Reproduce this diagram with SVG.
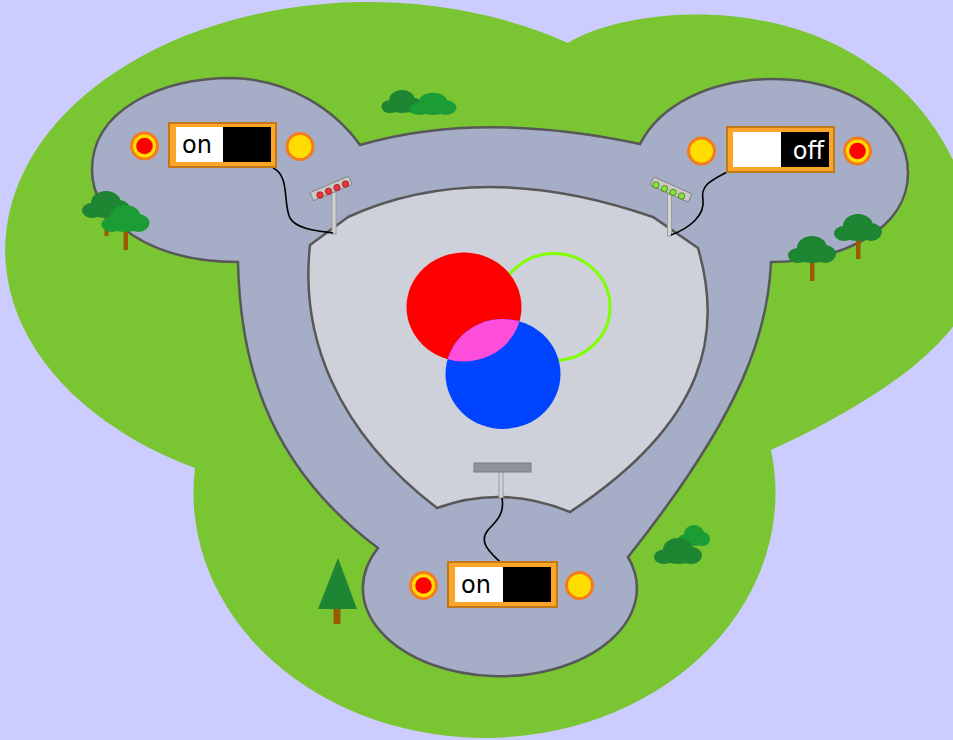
<svg xmlns="http://www.w3.org/2000/svg" width="953" height="740" viewBox="0 0 953 740">
  <defs>
    <style>
      .edge { stroke: #585858; stroke-width: 2.5; stroke-linejoin: miter; }
      .dark { fill: #1e8533; }
      .bright { fill: #1b9c34; }
      .trunk { fill: #9a5a00; }
      .frame { fill: #fba529; stroke: #c07818; stroke-width: 2; }
      .lamp { fill: #ffdd00; stroke: #f47b20; stroke-width: 3; }
      .core { fill: #ff0000; }
      .pole { fill: #d2d3d6; stroke: #9a9a9a; stroke-width: 1; }
      .head { fill: #c9c9c9; stroke: #888; stroke-width: 1; }
      .cable { fill: none; stroke: #000; stroke-width: 1.6; }
      .label { font-family: "DejaVu Sans", "Liberation Sans", sans-serif; font-size: 24px; }
    </style>
    <g id="canopy">
      <ellipse cx="0" cy="-15" rx="15" ry="12"/>
      <ellipse cx="-14" cy="-7.5" rx="10" ry="7.5"/>
      <ellipse cx="13" cy="-9" rx="11" ry="9"/>
      <ellipse cx="0" cy="-7" rx="16" ry="7"/>
    </g>
    <clipPath id="blueClip">
      <ellipse cx="503" cy="374" rx="57.5" ry="55"/>
    </clipPath>
  </defs>

  <rect id="sky" x="0" y="0" width="953" height="740" fill="#ccccff"/>

  <path id="land" fill="#7ac532" d="M 568 43 C 620 10, 770 -8, 873 67 C 940 110, 985 200, 975 280 C 965 340, 880 400, 771 450 A 291 245 0 1 1 195 468 A 363 248 0 1 1 568 43 Z"/>

  <g id="bushes-top">
    <use href="#canopy" class="dark" transform="translate(402 113) scale(0.86 0.85)"/>
    <use href="#canopy" class="bright" transform="translate(433 115) scale(0.98 0.82)"/>
  </g>
  <g id="bushes-bottom">
    <use href="#canopy" class="bright" transform="translate(694 546) scale(0.67 0.78)"/>
    <use href="#canopy" class="dark" transform="translate(678 564) scale(1 0.96)"/>
  </g>
  <g id="conifer">
    <rect class="trunk" x="333.5" y="608" width="7" height="16"/>
    <polygon class="dark" points="338,558 357,609 318,609"/>
  </g>

  <path id="road" class="edge" fill="#a5aec6" d="M 360 145 Q 480 110 640 144 C 660 105, 710 79, 773 79 C 850 79, 908 120, 908 173 C 908 230, 840 262, 771 262 C 768 330, 745 410, 628 557 A 137 88 0 1 1 378 548 C 260 460, 240 350, 238 262 C 150 262, 92 220, 92 170 C 92 110, 160 78, 233 78 C 290 80, 335 110, 360 145 Z"/>

  <path id="stage" class="edge" fill="#ced1da" d="M 310 245 L 348 217 Q 480 157 653 217 L 698 248 C 722 330, 710 420, 570 512 Q 502 484 437 508 C 335 430, 300 335, 310 245 Z"/>

  <g id="trees-left">
    <rect class="trunk" x="104.5" y="214" width="4" height="22"/>
    <use href="#canopy" class="dark" transform="translate(106 218)"/>
    <rect class="trunk" x="123.5" y="228" width="4.5" height="22"/>
    <use href="#canopy" class="bright" transform="translate(125.5 232)"/>
  </g>
  <g id="trees-right">
    <rect class="trunk" x="810" y="259" width="4.5" height="22"/>
    <use href="#canopy" class="dark" transform="translate(812 263)"/>
    <rect class="trunk" x="856" y="237" width="4.5" height="22"/>
    <use href="#canopy" class="dark" transform="translate(858 241)"/>
  </g>

  <g id="light-pools">
    <ellipse id="pool-green" cx="554" cy="307" rx="56" ry="53.5" fill="none" stroke="#7fff00" stroke-width="3"/>
    <ellipse id="pool-red" cx="464" cy="307" rx="57.5" ry="54.5" fill="#ff0000"/>
    <ellipse id="pool-blue" cx="503" cy="374" rx="57.5" ry="55" fill="#0044ff"/>
    <ellipse id="pool-mix" cx="464" cy="307" rx="57.5" ry="54.5" fill="#ff4ddb" clip-path="url(#blueClip)"/>
  </g>

  <g id="spot-left">
    <rect class="pole" x="332" y="192" width="4" height="42"/>
    <rect class="head" x="-21" y="-4.5" width="42" height="9" rx="1.5" transform="translate(331 188.5) rotate(-23)"/>
    <g fill="#e8343a" stroke="#9a1a1a" stroke-width="0.8">
      <circle cx="320" cy="195" r="3.2"/>
      <circle cx="328.5" cy="191.3" r="3.2"/>
      <circle cx="337" cy="187.6" r="3.2"/>
      <circle cx="345.5" cy="184" r="3.2"/>
    </g>
  </g>
  <g id="spot-right">
    <rect class="pole" x="667.5" y="194" width="4" height="42"/>
    <rect class="head" x="-21" y="-4.5" width="42" height="9" rx="1.5" transform="translate(671 189.5) rotate(24)"/>
    <g fill="#88e23a" stroke="#3a7a10" stroke-width="0.8">
      <circle cx="656" cy="185" r="3.2"/>
      <circle cx="664.5" cy="188.7" r="3.2"/>
      <circle cx="673" cy="192.4" r="3.2"/>
      <circle cx="681.5" cy="196" r="3.2"/>
    </g>
  </g>
  <g id="spot-bottom">
    <rect class="pole" x="499" y="471" width="4" height="27"/>
    <rect x="474" y="463" width="57" height="9" fill="#8f9299" stroke="#7a7c82" stroke-width="1"/>
  </g>

  <g id="connectors">
    <path class="cable" d="M 273 168 C 290 175, 283 205, 290 218 C 297 230, 320 231, 333 233"/>
    <path class="cable" d="M 727 172 C 712 180, 700 185, 703 200 C 705 215, 690 228, 671 235"/>
    <path class="cable" d="M 502 498 C 505 515, 495 522, 488 530 C 478 542, 490 552, 500 562"/>
  </g>

  <g id="switch-left">
    <rect class="frame" x="169" y="123" width="107" height="44"/>
    <rect x="176" y="127" width="47" height="35" fill="#ffffff"/>
    <rect x="223" y="127" width="48" height="35" fill="#000000"/>
    <text class="label" x="182" y="153" fill="#000">on</text>
  </g>
  <g id="switch-right">
    <rect class="frame" x="727" y="127" width="107" height="45"/>
    <rect x="733" y="132" width="48" height="35" fill="#ffffff"/>
    <rect x="781" y="132" width="48" height="35" fill="#000000"/>
    <text class="label" x="824" y="159" fill="#ffffff" text-anchor="end">off</text>
  </g>
  <g id="switch-bottom">
    <rect class="frame" x="448" y="562" width="109" height="45"/>
    <rect x="455" y="567" width="48" height="35" fill="#ffffff"/>
    <rect x="503" y="567" width="48" height="35" fill="#000000"/>
    <text class="label" x="461" y="593" fill="#000">on</text>
  </g>

  <g id="lamp-left-red">
    <circle class="lamp" cx="144.5" cy="146" r="13"/>
    <circle class="core" cx="144.5" cy="146" r="8.3"/>
  </g>
  <g id="lamp-left-yellow">
    <circle class="lamp" cx="300" cy="146.5" r="13"/>
  </g>
  <g id="lamp-right-yellow">
    <circle class="lamp" cx="701.5" cy="151" r="13"/>
  </g>
  <g id="lamp-right-red">
    <circle class="lamp" cx="857.5" cy="151" r="13"/>
    <circle class="core" cx="857.5" cy="151" r="8.3"/>
  </g>
  <g id="lamp-bottom-red">
    <circle class="lamp" cx="423.5" cy="585.5" r="13"/>
    <circle class="core" cx="423.5" cy="585.5" r="8.3"/>
  </g>
  <g id="lamp-bottom-yellow">
    <circle class="lamp" cx="579.5" cy="585.5" r="13"/>
  </g>
</svg>
